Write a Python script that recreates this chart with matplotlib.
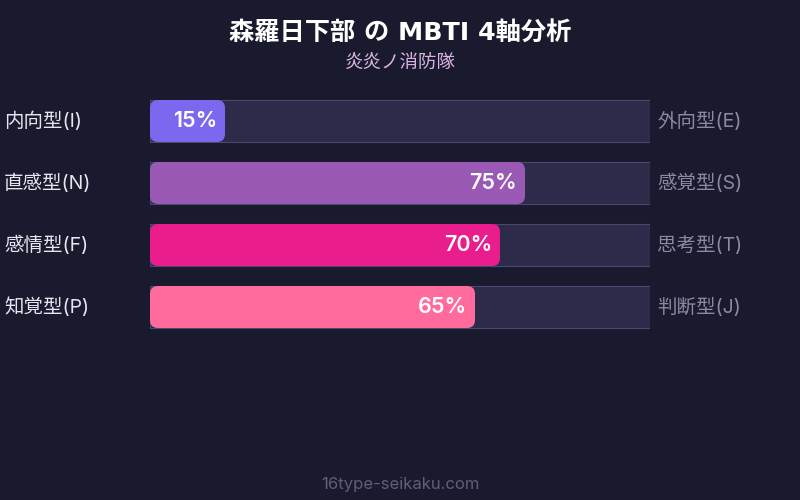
import matplotlib
matplotlib.use("Agg")
import matplotlib.pyplot as plt
from matplotlib.patches import FancyBboxPatch, Rectangle

FAM = ['Inter', 'Noto Sans CJK JP', 'DejaVu Sans']
plt.rcParams['font.family'] = FAM

title = "森羅日下部 の MBTI 4軸分析"
subtitle = "炎炎ノ消防隊"
footer = "16type-seikaku.com"
left_labels = ["内向型(I)", "直感型(N)", "感情型(F)", "知覚型(P)"]
right_labels = ["外向型(E)", "感覚型(S)", "思考型(T)", "判断型(J)"]
values = [15, 75, 70, 65]
colors = ["#7b68ee", "#9b59b6", "#e91e8c", "#ff6b9d"]

BG = "#1a1a2e"
W, H = 800, 500
fig = plt.figure(figsize=(8, 5), dpi=100, facecolor=BG)

# bar axes: x 150..650 px, y 90..338 px
x0, x1 = 150, 650
y0, y1 = 90, 338
ax = fig.add_axes([x0 / W, 1 - y1 / H, (x1 - x0) / W, (y1 - y0) / H])
ax.set_xlim(0, 100)
ax.set_ylim(len(values) - 0.5, -0.5)
ax.axis("off")
ax.set_facecolor("none")

px_x = 100 / (x1 - x0)
row_px = (y1 - y0) / len(values)
px_y = 1 / row_px
bh = 42 / row_px
r = 8
for i, (v, c) in enumerate(zip(values, colors)):
    ax.add_patch(Rectangle((0, i - bh / 2), 100, bh, facecolor="#2d2b4a",
                           edgecolor="#4a4870", linewidth=0.8))
    ax.add_patch(FancyBboxPatch((0, i - bh / 2), v, bh,
                                boxstyle=f"round,pad=0,rounding_size={r * px_x}",
                                mutation_aspect=px_y / px_x,
                                facecolor=c, edgecolor="none"))
    ax.text(v - 8 * px_x, i, f"{v}%", ha="right", va="center",
            color="white", fontsize=15.5, fontweight="semibold")
    fig.text(4 / W, 1 - (y0 + (i + 0.5) * row_px) / H, left_labels[i],
             ha="left", va="center", color="#e6e6f0", fontsize=14)
    fig.text(657 / W, 1 - (y0 + (i + 0.5) * row_px) / H, right_labels[i],
             ha="left", va="center", color="#8a8aa3", fontsize=14)

fig.text(0.5, 1 - 33 / H, title, ha="center", va="center", color="white",
         fontsize=18.2, fontweight="bold",
         family=['DejaVu Sans', 'Noto Sans CJK JP'])
fig.text(0.5, 1 - 63 / H, subtitle, ha="center", va="center", color="#d8b4e2",
         fontsize=13.3)
fig.text(0.5, 1 - 484 / H, footer, ha="center", va="center", color="#5e5e7a",
         fontsize=12)

fig.savefig("out.png", dpi=100, facecolor=BG)
